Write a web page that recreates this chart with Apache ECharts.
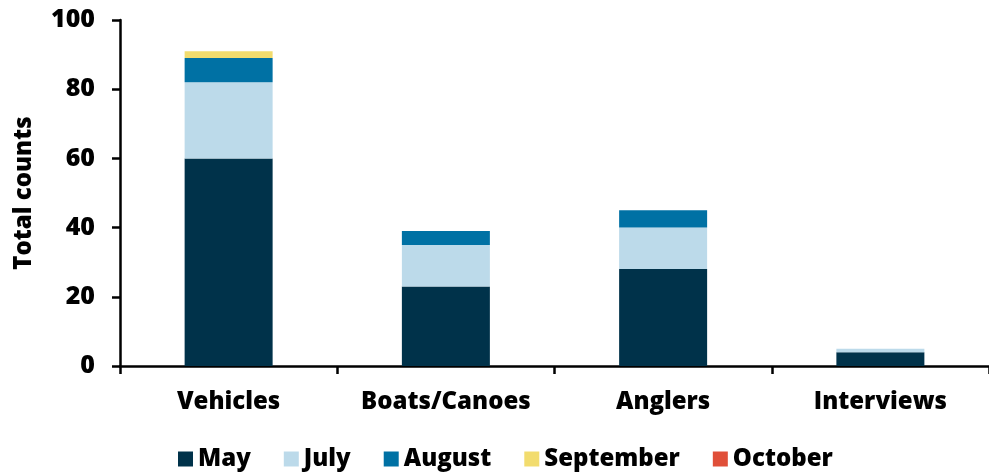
<!DOCTYPE html>
<html>
<head>
<meta charset="utf-8">
<script src="https://cdn.jsdelivr.net/npm/echarts@6/dist/echarts.min.js"></script>
<style>html,body{margin:0;padding:0;background:#fff;}#c{width:989px;height:474px;}</style>
</head>
<body>
<div id="c"></div>
<script>
const categories = ['Vehicles', 'Boats/Canoes', 'Anglers', 'Interviews'];
const seriesNames = ['May', 'July', 'August', 'September', 'October'];
const may = [60, 23, 28, 4];
const july = [22, 12, 12, 1];
const august = [7, 4, 5, 0];
const september = [2, 0, 0, 0];
const october = [0, 0, 0, 0];
const colors = ['#00324a', '#bcdaea', '#0071a4', '#f2dc6e', '#e04f39'];
const values = [may, july, august, september, october];

const FONT = 'Open Sans';
const W = 800;
const chart = echarts.init(document.getElementById('c'));
chart.setOption({
  animation: false,
  textStyle: { fontFamily: FONT },
  grid: { left: 120, top: 20, width: 876, bottom: 108 },
  legend: {
    top: 442, left: 173,
    itemWidth: 15, itemHeight: 15, itemGap: 33,
    icon: 'rect',
    textStyle: { fontFamily: FONT, fontWeight: W, fontSize: 24, color: '#000' },
    data: seriesNames
  },
  xAxis: {
    type: 'category', data: categories,
    axisLine: { lineStyle: { color: '#000', width: 2.5 } },
    axisTick: { show: true, interval: 0, length: 8, lineStyle: { color: '#000', width: 2.5 } },
    axisLabel: { interval: 0, margin: 24, fontFamily: FONT, fontWeight: W, fontSize: 24, color: '#000' }
  },
  yAxis: {
    type: 'value', min: 0, max: 100, interval: 20,
    name: 'Total counts', nameLocation: 'middle', nameGap: 84,
    nameTextStyle: { fontFamily: FONT, fontWeight: W, fontSize: 24, color: '#000' },
    axisLine: { show: true, lineStyle: { color: '#000', width: 2.5 } },
    axisTick: { show: true, length: 8, lineStyle: { color: '#000', width: 2.5 } },
    splitLine: { show: false },
    axisLabel: { margin: 25, fontFamily: FONT, fontWeight: W, fontSize: 25, color: '#000' }
  },
  series: seriesNames.map((n, i) => ({
    name: n, type: 'bar', stack: 'total', barWidth: 88,
    itemStyle: { color: colors[i] },
    data: values[i]
  }))
});
</script>
</body>
</html>
